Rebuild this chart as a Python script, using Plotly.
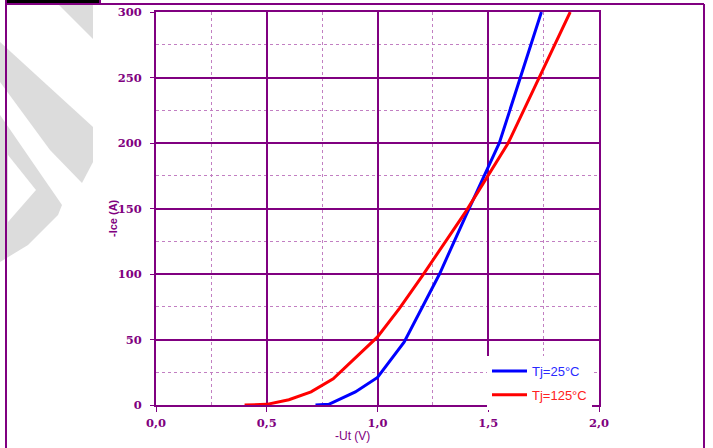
import plotly.graph_objects as go

# ---- data ----
ut_25 = [0.72, 0.78, 0.90, 1.00, 1.12, 1.28, 1.40, 1.55, 1.74]
ice_25 = [0, 0.5, 10, 21, 48, 100, 145, 200, 300]
ut_125 = [0.40, 0.50, 0.60, 0.70, 0.80, 1.00, 1.10, 1.20, 1.40, 1.59, 1.87]
ice_125 = [0, 0.5, 4, 10, 20, 52, 74, 98, 148, 200, 300]
series_names = ["Tj=25°C", "Tj=125°C"]
x_ticks = [0.0, 0.5, 1.0, 1.5, 2.0]
y_ticks = [0, 50, 100, 150, 200, 250, 300]

W, H = 713, 448
L, R, T, B = 156, 114, 12, 43
PW, PH = W - L - R, H - T - B
PURPLE = "#800080"
MINOR = "#c27fc2"


def px(xp, yp):
    return (xp - L) / PW, (H - B - yp) / PH


def path(points):
    pts = [px(a, b) for a, b in points]
    return "M " + " L ".join(f"{a:.4f},{b:.4f}" for a, b in pts) + " Z"


fig = go.Figure()
fig.add_trace(go.Scatter(x=ut_25, y=ice_25, mode="lines", legendgroup="a",
                         line=dict(color="#0000ff", width=3),
                         name=f'<span style="color:#2a2aff">{series_names[0]}</span>'))
fig.add_trace(go.Scatter(x=ut_125, y=ice_125, mode="lines", legendgroup="b",
                         line=dict(color="#ff0000", width=3),
                         name=f'<span style="color:#ff2020">{series_names[1]}</span>'))

tickfont = dict(family="DejaVu Serif", size=11.5, color=PURPLE, weight="bold")

fig.update_xaxes(range=[0, 2], tickvals=x_ticks, tickformat=".1f", automargin=False,
                 showline=True, mirror=True, linecolor=PURPLE, linewidth=2,
                 showgrid=True, gridcolor=PURPLE, gridwidth=2,
                 ticks="outside", ticklen=5, tickcolor=PURPLE, tickwidth=1,
                 ticklabelstandoff=1, tickfont=tickfont, zeroline=False,
                 minor=dict(dtick=0.25, showgrid=True, gridcolor=MINOR,
                            griddash="dot", gridwidth=1))
fig.update_yaxes(range=[0, 300], tickvals=y_ticks, automargin=False,
                 showline=True, mirror=True, linecolor=PURPLE, linewidth=2,
                 showgrid=True, gridcolor=PURPLE, gridwidth=2,
                 ticks="outside", ticklen=4, tickcolor=PURPLE, tickwidth=1,
                 ticklabelstandoff=6, tickfont=tickfont, zeroline=False,
                 minor=dict(dtick=25, showgrid=True, gridcolor=MINOR,
                            griddash="dot", gridwidth=1))

shapes = []
# watermark strokes
grey = "#dcdcdc"
for poly in [
    [(58, 4), (93, 4), (93, 39)],
    [(0, 42), (93, 127), (93, 162), (82, 183), (50, 150), (0, 82)],
    [(0, 115), (62, 205), (58, 215), (28, 245), (0, 262)],
]:
    shapes.append(dict(type="path", path=path(poly), xref="paper", yref="paper",
                       fillcolor=grey, line=dict(width=0), layer="below"))
shapes.append(dict(type="path", path=path([(8, 155), (36, 190), (8, 222)]),
                   xref="paper", yref="paper", fillcolor="white",
                   line=dict(width=0), layer="below"))
# outer frame
x0, y0 = px(6, 0)
x1, y1 = px(704, 4)
_, ybot = px(0, H + 5)
shapes.append(dict(type="line", xref="paper", yref="paper", x0=x0, x1=x0, y0=px(0, 0)[1], y1=ybot,
                   line=dict(color=PURPLE, width=2)))
shapes.append(dict(type="line", xref="paper", yref="paper", x0=x1, x1=x1, y0=y1, y1=ybot,
                   line=dict(color=PURPLE, width=2)))
shapes.append(dict(type="line", xref="paper", yref="paper", x0=x0, x1=x1, y0=y1, y1=y1,
                   line=dict(color=PURPLE, width=2)))
bx0, by0 = px(6, -2)
bx1, by1 = px(100, 4)
shapes.append(dict(type="rect", xref="paper", yref="paper", x0=bx0, x1=bx1, y0=by1, y1=by0,
                   fillcolor="black", line=dict(color=PURPLE, width=2)))

ax, ay = px(352, 436)
bx, byy = px(113, 218)
annotations = [
    dict(text="-Ut (V)", x=ax, y=ay, xref="paper", yref="paper", showarrow=False,
         xanchor="center", yanchor="middle",
         font=dict(family="Liberation Sans", size=12, color=PURPLE)),
    dict(text="<b>-Ice (A)</b>", x=bx, y=byy, xref="paper", yref="paper", showarrow=False,
         xanchor="center", yanchor="middle",
         textangle=-90, font=dict(family="Liberation Sans", size=11, color=PURPLE)),
]

lx, ly = px(487, 410)
fig.update_layout(
    width=W, height=H, margin=dict(l=L, r=R, t=T, b=B, pad=0, autoexpand=False),
    paper_bgcolor="white", plot_bgcolor="white",
    separators=",.",
    shapes=shapes, annotations=annotations,
    showlegend=True,
    legend=dict(x=lx, y=ly, xanchor="left", yanchor="bottom",
                bgcolor="white", borderwidth=0, tracegroupgap=4, itemwidth=35,
                font=dict(family="Liberation Sans", size=13)),
)

fig.write_html("out.html", config={"displayModeBar": False},
               post_script="document.body.style.margin='0';")
